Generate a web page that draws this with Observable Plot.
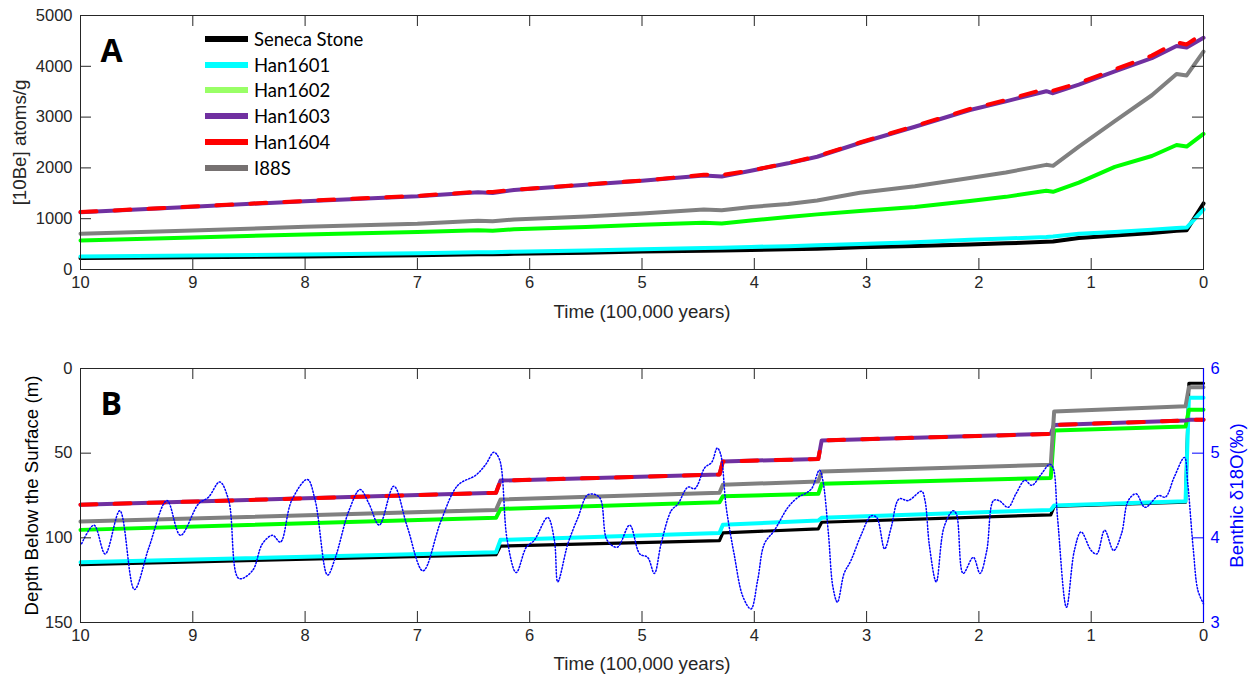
<!DOCTYPE html>
<html><head><meta charset="utf-8">
<script src="https://cdn.jsdelivr.net/npm/d3@7"></script>
<script src="https://cdn.jsdelivr.net/npm/@observablehq/plot@0.6"></script>
<style>
body{margin:0;background:#fff;}
#wrap{position:relative;width:1252px;height:678px;overflow:hidden;background:#fff;}
#wrap svg{position:absolute;left:0;}
.legend{position:absolute;left:205px;top:26px;font-family:Lato,"Open Sans",sans-serif;font-size:18.5px;color:#000;}
.legend .row{display:flex;align-items:center;height:25.8px;}
.legend .sw{width:43px;height:6px;margin-right:6px;}
</style></head><body><div id="wrap"></div>
<script>
// ---------- data ----------
const seriesNames = ["Seneca Stone","Han1601","Han1602","Han1603","Han1604","I88S"];
const lineColors  = ["#000000","#00FFFF","#00FF00","#7030A0","#FF0000","#808080"];
const legendColors= ["#000000","#00FFFF","#99FF66","#7030A0","#FF0000","#767171"];

// Panel A: [10Be] concentration vs time (100 kyr)
const timeA    = [10, 9, 8, 7, 6.46, 6.33, 6.14, 5.5, 5, 4.45, 4.29, 4.03, 3.7, 3.44, 3.06, 2.57, 2.08, 1.76, 1.40, 1.34, 1.11, 0.79, 0.46, 0.24, 0.15, 0];
const senecaA  = [224, 240, 258, 280, 300, 300, 308, 330, 355, 370, 372, 385, 400, 410, 440, 465, 490, 515, 545, 550, 620, 670, 720, 765, 775, 1300];
const han1601A = [257, 275, 295, 320, 340, 340, 350, 375, 400, 425, 430, 445, 460, 475, 500, 535, 585, 610, 640, 650, 705, 740, 785, 815, 825, 1180];
const han1602A = [572, 630, 690, 740, 775, 765, 790, 835, 880, 920, 905, 965, 1035, 1085, 1150, 1230, 1350, 1430, 1550, 1530, 1710, 2020, 2235, 2450, 2420, 2670];
const han1603A = [1125, 1235, 1345, 1440, 1520, 1505, 1565, 1670, 1745, 1850, 1830, 1945, 2090, 2220, 2490, 2810, 3140, 3310, 3510, 3470, 3640, 3900, 4160, 4400, 4370, 4560];
const han1604A = [1130, 1240, 1350, 1450, 1530, 1525, 1570, 1675, 1750, 1865, 1860, 1950, 2095, 2230, 2500, 2825, 3160, 3335, 3560, 3520, 3670, 3940, 4210, 4470, 4430, 4650];
const i88sA    = [705, 770, 840, 900, 960, 950, 985, 1045, 1100, 1180, 1165, 1230, 1290, 1360, 1510, 1640, 1800, 1910, 2060, 2040, 2420, 2920, 3430, 3850, 3820, 4290];

// Panel B: depth below surface (m) vs time
const timeB    = [10, 6.30, 6.26, 4.31, 4.28, 3.43, 3.40, 1.36, 1.33, 0.16, 0.13, 0];
const senecaB  = [115.8, 110.0, 104.9, 101.6, 97.1, 94.7, 90.8, 86.4, 81.5, 79.0, 8.7, 8.7];
const han1601B = [114.4, 108.5, 101.2, 97.1, 92.3, 89.8, 88.2, 83.5, 80.9, 78.4, 17.3, 17.3];
const han1602B = [95.3, 88.2, 82.9, 79.0, 75.4, 74.0, 68.1, 64.6, 36.6, 34.3, 24.4, 24.4];
const han1603B = [80.5, 73.4, 66.2, 62.6, 54.9, 53.4, 42.5, 38.6, 33.3, 30.7, 30.3, 30.3];
const han1604B = [80.5, 73.4, 66.2, 62.6, 54.9, 53.4, 42.5, 38.6, 33.3, 30.7, 30.3, 30.3];
const i88sB    = [90.4, 83.5, 77.4, 73.4, 68.7, 66.7, 60.8, 56.9, 25.4, 22.3, 11.0, 11.0];

// Benthic d18O (per mil) vs time
const d18oTime = [9.99,9.88,9.78,9.65,9.52,9.39,9.23,9.11,8.95,8.86,8.76,8.68,8.59,8.47,8.38,8.29,8.22,8.12,7.98,7.91,7.80,7.73,7.61,7.51,7.43,7.34,7.21,7.09,6.95,6.79,6.64,6.48,6.39,6.32,6.27,6.20,6.12,6.03,5.96,5.84,5.78,5.75,5.66,5.57,5.48,5.38,5.31,5.22,5.11,5.02,4.95,4.89,4.83,4.74,4.68,4.59,4.53,4.44,4.38,4.33,4.30,4.25,4.18,4.10,4.03,3.97,3.91,3.82,3.70,3.61,3.55,3.49,3.42,3.39,3.34,3.30,3.26,3.20,3.14,3.05,2.96,2.91,2.84,2.78,2.71,2.63,2.51,2.48,2.44,2.38,2.31,2.23,2.20,2.14,2.05,1.99,1.93,1.87,1.82,1.74,1.67,1.59,1.53,1.44,1.37,1.34,1.30,1.22,1.15,1.09,1.00,0.95,0.88,0.80,0.73,0.67,0.60,0.52,0.40,0.34,0.26,0.17,0.14,0.09,0.05,0.0];
const d18oValue= [3.93,4.15,3.81,4.32,3.39,3.89,4.44,4.03,4.40,4.48,4.66,4.44,3.52,3.61,3.93,4.03,3.95,4.44,4.69,4.44,3.56,3.77,4.32,4.57,4.40,4.15,4.61,4.13,3.61,4.20,4.62,4.74,4.87,5.01,4.93,3.97,3.59,3.89,3.97,4.24,3.97,3.48,3.93,4.24,4.51,4.48,3.97,3.89,4.15,3.81,3.77,3.58,3.93,4.32,4.40,4.60,4.58,4.83,4.89,5.06,4.99,4.36,3.81,3.30,3.16,3.50,3.93,4.09,4.36,4.48,4.52,4.58,4.80,4.68,4.05,3.42,3.24,3.58,3.73,4.03,4.26,4.24,3.87,4.13,4.46,4.44,4.55,4.44,3.90,3.48,4.13,4.32,4.28,3.58,3.77,3.58,3.85,4.44,4.44,4.36,4.52,4.68,4.62,4.76,4.87,4.83,4.24,3.18,3.85,4.07,3.85,3.81,4.09,3.85,4.05,4.44,4.52,4.36,4.50,4.48,4.72,4.95,4.64,3.85,3.38,3.22];

// tick values
const xTicks = [10,9,8,7,6,5,4,3,2,1,0];
const yTicksA = [0,1000,2000,3000,4000,5000];
const yTicksB = [0,50,100,150];
const d18oTicks = [3,4,5,6];

// ---------- helpers ----------
const W = 1252, ML = 80, MR = 49;
const INNER_W = W - ML - MR;
const TICK = 11;
const ink = "#262626";
const font = "Liberation Sans, Arial, sans-serif";
const TICK_FS = 16.5, TITLE_FS = 18.7;
const toDepth = d3.scaleLinear().domain([6, 3]).range([0, 150]);

function rows(times, vals) { return times.map((t, i) => ({t, v: vals[i]})); }

function frameMarks(innerH, yTicks, opts = {}) {
  const inner = xTicks.filter(d => d !== 0 && d !== 10);
  const innerY = yTicks.slice(1, -1);
  const m = [
    Plot.frame({stroke: ink, strokeWidth: 1}),
    Plot.tickX(inner, {x: d => d, stroke: ink, insetBottom: innerH - TICK}),
    Plot.tickX(inner, {x: d => d, stroke: ink, insetTop: innerH - TICK}),
    Plot.tickY(innerY, {y: d => d, stroke: ink, insetRight: INNER_W - TICK}),
    Plot.axisX(xTicks, {tickSize: 0, tickPadding: 7, label: null, tickFormat: d => String(d), fill: ink, fontSize: TICK_FS, fontFamily: font}),
    Plot.axisY(yTicks, {tickSize: 0, tickPadding: 8, label: null, tickFormat: d => String(d), fill: ink, fontSize: TICK_FS, fontFamily: font})
  ];
  if (!opts.noRightTicks) m.push(Plot.tickY(innerY, {y: d => d, stroke: ink, insetLeft: INNER_W - TICK}));
  return m;
}

const wrap = document.getElementById("wrap");

// ---------- Panel A ----------
const dataA = [senecaA, han1601A, han1602A, han1603A, han1604A, i88sA];
const HA = 330, innerHA = HA - 15 - 61;
const linesA = dataA.map((arr, i) => Plot.line(rows(timeA, arr), {
  x: "t", y: "v", stroke: lineColors[i], strokeWidth: 4,
  strokeDasharray: seriesNames[i] === "Han1604" ? "16,18" : null
}));
const plotA = Plot.plot({
  width: W, height: HA, marginLeft: ML, marginRight: MR, marginTop: 15, marginBottom: 61,
  x: {domain: [10, 0]}, y: {domain: [0, 5000]},
  style: {fontFamily: font, fontSize: "16px", color: ink, background: "transparent", overflow: "visible"},
  marks: [
    ...linesA,
    ...frameMarks(innerHA, yTicksA),
    Plot.text(["Time (100,000 years)"], {text: d => d, frameAnchor: "bottom", dy: 43, lineAnchor: "middle", fill: ink, fontSize: TITLE_FS, fontFamily: font}),
    Plot.text(["[10Be] atoms/g"], {text: d => d, frameAnchor: "left", dx: -60, rotate: -90, lineAnchor: "middle", textAnchor: "middle", fill: ink, fontSize: TITLE_FS, fontFamily: font}),
    Plot.text(["A"], {text: d => d, frameAnchor: "top-left", dx: 20, dy: 36, textAnchor: "start", lineAnchor: "middle", fontSize: 32, fontWeight: "bold", fontFamily: "Open Sans, sans-serif", fill: "#000"})
  ]
});
plotA.style.top = "0px";
wrap.appendChild(plotA);

// ---------- Panel B ----------
const dataB = [senecaB, han1601B, han1602B, han1603B, han1604B, i88sB];
const HB = 348, innerHB = HB - 38 - 56;
const linesB = dataB.map((arr, i) => Plot.line(rows(timeB, arr), {
  x: "t", y: "v", stroke: lineColors[i], strokeWidth: i === 0 ? 3.2 : 4,
  strokeDasharray: seriesNames[i] === "Han1604" ? "16,18" : null
}));
const d18oRows = rows(d18oTime, d18oValue);
const rightDepthTicks = d18oTicks.map(v => toDepth(v));
const plotB = Plot.plot({
  width: W, height: HB, marginLeft: ML, marginRight: MR, marginTop: 38, marginBottom: 56,
  x: {domain: [10, 0]}, y: {domain: [150, 0]},
  style: {fontFamily: font, fontSize: "16px", color: ink, background: "transparent", overflow: "visible"},
  marks: [
    ...linesB,
    Plot.line(d18oRows, {x: "t", y: d => toDepth(d.v), curve: "catmull-rom", stroke: "#0000FF", strokeWidth: 1.5, strokeDasharray: "1.3,2"}),
    ...frameMarks(innerHB, yTicksB, {noRightTicks: true}),
    Plot.ruleX([0], {x: d => d, stroke: "#0000FF", strokeWidth: 1.2}),
    Plot.tickY(rightDepthTicks.slice(1, -1), {y: d => d, stroke: "#0000FF", insetLeft: INNER_W - TICK}),
    Plot.axisY(rightDepthTicks, {anchor: "right", tickSize: 0, tickPadding: 7, label: null, tickFormat: d => String(Math.round(toDepth.invert(d))), fill: "#0000FF", fontSize: TICK_FS, fontFamily: font}),
    Plot.text(["Time (100,000 years)"], {text: d => d, frameAnchor: "bottom", dy: 42, lineAnchor: "middle", fill: ink, fontSize: TITLE_FS, fontFamily: font}),
    Plot.text(["Depth Below the Surface (m)"], {text: d => d, frameAnchor: "left", dx: -48, rotate: -90, lineAnchor: "middle", textAnchor: "middle", fill: "#000", fontSize: TITLE_FS, fontFamily: font}),
    Plot.text(["Benthic δ18O(‰)"], {text: d => d, frameAnchor: "right", dx: 34, rotate: -90, lineAnchor: "middle", textAnchor: "middle", fill: "#0000FF", fontSize: TITLE_FS, fontFamily: font}),
    Plot.text(["B"], {text: d => d, frameAnchor: "top-left", dx: 20, dy: 36, textAnchor: "start", lineAnchor: "middle", fontSize: 32, fontWeight: "bold", fontFamily: "Open Sans, sans-serif", fill: "#000"})
  ]
});
plotB.style.top = "330px";
wrap.appendChild(plotB);

// ---------- Legend ----------
const leg = document.createElement("div");
leg.className = "legend";
seriesNames.forEach((name, i) => {
  const r = document.createElement("div");
  r.className = "row";
  const sw = document.createElement("span");
  sw.className = "sw";
  sw.style.background = legendColors[i];
  const tx = document.createElement("span");
  tx.textContent = name;
  r.appendChild(sw); r.appendChild(tx);
  leg.appendChild(r);
});
wrap.appendChild(leg);
</script></body></html>
